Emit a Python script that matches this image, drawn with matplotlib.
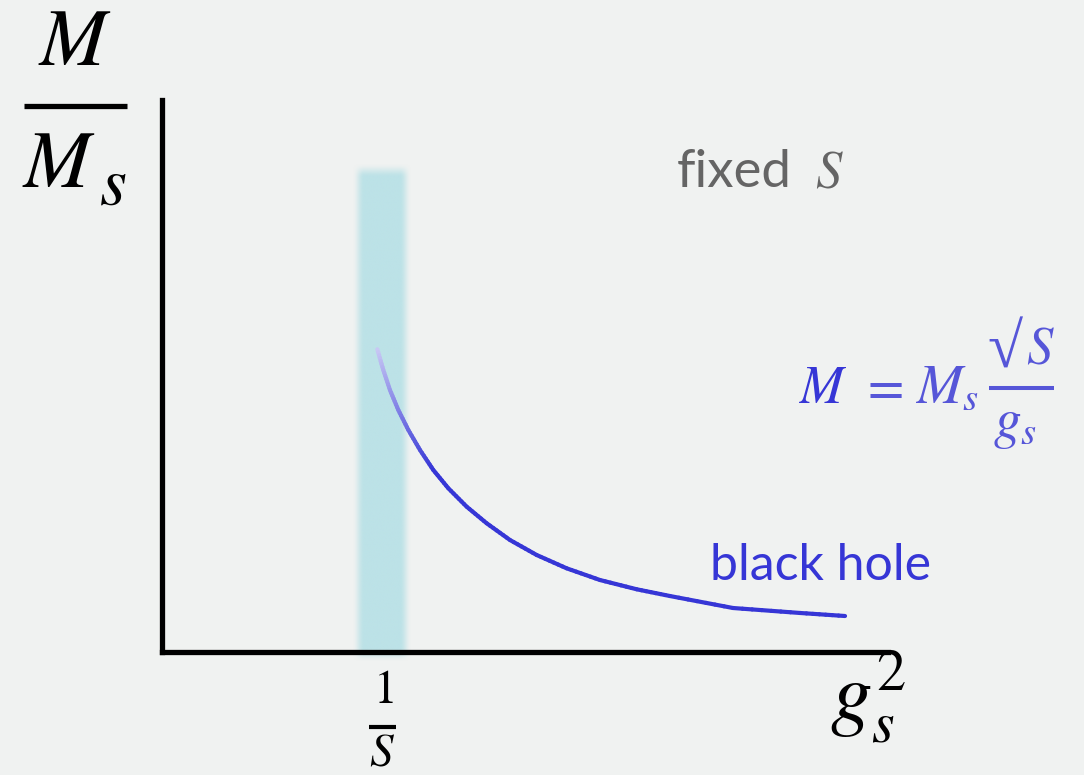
import numpy as np
import matplotlib
matplotlib.use('Agg')
import matplotlib.pyplot as plt
from matplotlib.collections import LineCollection
from matplotlib.lines import Line2D
from matplotlib.colors import to_rgb

plt.rcParams['mathtext.fontset'] = 'stix'

BG = '#f0f2f1'
BLUE = '#3636d6'
PALE = '#c8c8f4'
FORMULA = '#5656d8'
BAND = '#bce2e7'
GREY = '#656565'

W, H = 1084, 775

# black hole branch, x = g_s^2, y = M/M_s (plot units)
gs2 = [2.966, 3.048, 3.140, 3.255, 3.393, 3.554, 3.737, 3.944, 4.197, 4.472,
       4.793, 5.161, 5.574, 6.033, 6.539, 6.997, 7.865, 8.788, 9.408]
mass = [5.484, 5.109, 4.746, 4.384, 4.022, 3.659, 3.297, 2.966, 2.632, 2.332,
        2.029, 1.757, 1.516, 1.304, 1.136, 1.014, 0.797, 0.707, 0.652]

# shaded strip around g_s^2 = 1/S
band_x = (2.70, 3.35)
band_y = (-0.05, 8.73)


def put(x, y, s, size, color='black', ha='left', **kw):
    # place text by pixel position (from top-left), y is the baseline
    return fig.text(x / W, 1 - y / H, s, fontsize=size, color=color,
                    ha=ha, va='baseline', **kw)


def hbar(xa, xb, y, lw, color='black'):
    fig.add_artist(Line2D([xa / W, xb / W], [1 - y / H] * 2, lw=lw,
                          color=color, solid_capstyle='butt'))


fig = plt.figure(figsize=(W / 100, H / 100), dpi=100, facecolor=BG)
ax = fig.add_axes([162 / W, 123 / H, 726 / W, 552 / H])
ax.set_facecolor(BG)
ax.set_xlim(0, 10)
ax.set_ylim(0, 10)
ax.set_xticks([])
ax.set_yticks([])
for s in ['top', 'right']:
    ax.spines[s].set_visible(False)
for s in ['left', 'bottom']:
    ax.spines[s].set_linewidth(3.8)
    ax.spines[s].set_color('black')
    ax.spines[s].set_zorder(5)

# soft-edged strip
pad = 0.25
x0, x1 = band_x[0] - pad, band_x[1] + pad
y0, y1 = band_y[0] - pad, band_y[1] + pad
gx = np.linspace(x0, x1, 200)
gy = np.linspace(y0, y1, 600)


def ramp(v, lo, hi, w):
    a = np.clip((v - lo + w / 2) / w, 0, 1) * np.clip((hi + w / 2 - v) / w, 0, 1)
    return a * a * (3 - 2 * a)


img = np.zeros((len(gy), len(gx), 4))
img[..., :3] = to_rgb(BAND)
img[..., 3] = np.outer(ramp(gy, band_y[0], band_y[1], 0.25),
                       ramp(gx, band_x[0], band_x[1], 0.16))
ax.imshow(img, extent=(x0, x1, y0, y1), origin='lower', aspect='auto',
          interpolation='bilinear', zorder=1, clip_on=False)

# curve, fading in from the strip
xs, ys = [], []
for i in range(len(gs2) - 1):
    t = np.linspace(0, 1, 8)[:-1]
    xs.extend(gs2[i] + (gs2[i + 1] - gs2[i]) * t)
    ys.extend(mass[i] + (mass[i + 1] - mass[i]) * t)
xs.append(gs2[-1])
ys.append(mass[-1])
xs, ys = np.array(xs), np.array(ys)
pts = np.column_stack([xs, ys])
segs = np.stack([pts[:-1], pts[1:]], axis=1)
arc = np.concatenate([[0], np.cumsum(np.hypot(np.diff(xs), np.diff(ys)))])
fade_len = arc[6 * 7]
t = np.clip(arc[:-1] / fade_len, 0, 1)
c0, c1 = np.array(to_rgb(PALE)), np.array(to_rgb(BLUE))
cols = c0[None, :] * (1 - t[:, None]) + c1[None, :] * t[:, None]
lc = LineCollection(segs, colors=cols, linewidths=3.0, capstyle='round',
                    joinstyle='round', zorder=3)
ax.add_collection(lc)

# y label  M / M_s
put(75, 65, '$M$', 58, ha='center')
hbar(24, 127, 106, 3.8)
put(22, 187, '$M$', 58)
put(99, 205, '$s$', 50)

# x label  g_s^2
put(830, 720, '$g_s^2$', 60)

# tick 1/S
put(383, 703, '$1$', 34, ha='center')
hbar(369, 396, 727, 3.0)
put(382, 766, '$S$', 34, ha='center')

# annotations
put(677, 187, 'fixed', 38, color=GREY, family='Lato')
put(815, 187, '$S$', 38, color=GREY)

put(710, 580, 'black hole', 36, color=BLUE, family='Lato')

put(799, 403, '$M$', 38, color=BLUE)
put(860, 403, '$=$', 38, color=FORMULA)
put(915, 403, '$M_s$', 40, color=FORMULA)
hbar(989, 1054, 388, 2.9, color=FORMULA)
put(987, 368, '\u221a', 46, color=FORMULA, family='Liberation Serif')
put(1026, 363, '$S$', 38, color=FORMULA)
put(993, 437, '$g_s$', 40, color=FORMULA)

fig.savefig('out.png', dpi=100, facecolor=BG)
